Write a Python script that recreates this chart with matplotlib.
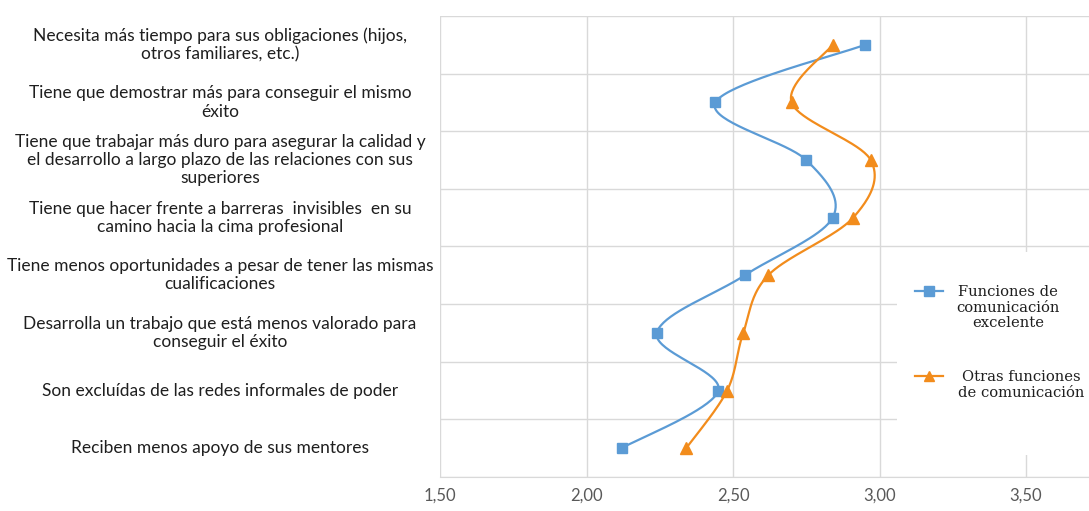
import matplotlib.pyplot as plt
import matplotlib.transforms as mtransforms
import numpy as np
from matplotlib.lines import Line2D
from matplotlib.patches import Rectangle

statements = [
    'Necesita más tiempo para sus obligaciones (hijos,\notros familiares, etc.)',
    'Tiene que demostrar más para conseguir el mismo\néxito',
    'Tiene que trabajar más duro para asegurar la calidad y\nel desarrollo a largo plazo de las relaciones con sus\nsuperiores',
    'Tiene que hacer frente a barreras  invisibles  en su\ncamino hacia la cima profesional',
    'Tiene menos oportunidades a pesar de tener las mismas\ncualificaciones',
    'Desarrolla un trabajo que está menos valorado para\nconseguir el éxito',
    'Son excluídas de las redes informales de poder',
    'Reciben menos apoyo de sus mentores',
]
excelente = [2.95, 2.44, 2.75, 2.84, 2.54, 2.24, 2.45, 2.12]
otras = [2.84, 2.70, 2.97, 2.91, 2.62, 2.535, 2.48, 2.34]
x_ticks = [1.5, 2.0, 2.5, 3.0, 3.5]
x_tick_labels = ['1,50', '2,00', '2,50', '3,00', '3,50']

BLUE = '#5B9BD5'
ORANGE = '#F28C1C'
GRID = '#d9d9d9'


def smooth(xs, ys, steps=40):
    # Catmull-Rom curve through the points, ends repeated
    pts = np.column_stack([xs, ys]).astype(float)
    padded = np.vstack([pts[0], pts, pts[-1]])
    t = np.linspace(0, 1, steps)[:, None]
    parts = []
    for i in range(1, len(padded) - 2):
        p0, p1, p2, p3 = padded[i - 1:i + 3]
        seg = 0.5 * (2 * p1 + (p2 - p0) * t
                     + (2 * p0 - 5 * p1 + 4 * p2 - p3) * t ** 2
                     + (-p0 + 3 * p1 - 3 * p2 + p3) * t ** 3)
        parts.append(seg if i == 1 else seg[1:])
    curve = np.vstack(parts)
    return curve[:, 0], curve[:, 1]


fig = plt.figure(figsize=(10.89, 5.11), dpi=100)
ax = fig.add_axes([440 / 1089, 1 - 477 / 511, 1 - 440 / 1089, (477 - 16) / 511])

pos = np.arange(len(statements))

for vals, color, marker, ms in [(excelente, BLUE, 's', 7.5), (otras, ORANGE, '^', 8)]:
    sx, sy = smooth(vals, pos)
    ax.plot(sx, sy, color=color, lw=1.6, zorder=3)
    ax.plot(vals, pos, linestyle='none', marker=marker, ms=ms, color=color, zorder=4)

ax.set_xlim(1.5, 1.5 + (1089 - 440) / 293)
ax.set_ylim(len(statements) - 0.5, -0.5)
ax.set_xticks(x_ticks)
ax.set_xticklabels(x_tick_labels, fontfamily='Lato', fontsize=12, color='#595959')
ax.set_yticks(np.arange(-0.5, len(statements), 1))
ax.set_yticklabels([])
ax.tick_params(length=0)
ax.tick_params(axis='x', pad=8)
ax.grid(True, color=GRID, lw=1)
ax.set_axisbelow(True)
for side in ['top', 'right', 'left']:
    ax.spines[side].set_visible(False)
ax.spines['bottom'].set_color(GRID)

# category labels, centred in the left margin
trans = mtransforms.blended_transform_factory(fig.transFigure, ax.transData)
for p, s in zip(pos, statements):
    ax.text(220 / 1089, p, s, transform=trans, ha='center', va='center',
            multialignment='center', fontfamily='Lato', fontsize=12.5,
            color='#1f1f1f', linespacing=1.18, clip_on=False)

# legend block on the right
fig.add_artist(Rectangle((897 / 1089, 1 - 455 / 511), (1089 - 897) / 1089, (455 - 252) / 511,
                         transform=fig.transFigure, facecolor='white', edgecolor='none', zorder=2))
legend_items = [
    (BLUE, 's', 7, 'Funciones de\ncomunicación\nexcelente', 291, 1008),
    (ORANGE, '^', 7.5, 'Otras funciones\nde comunicación', 376, 1021),
]
for color, marker, ms, label, ypx, xc in legend_items:
    yy = 1 - ypx / 511
    fig.add_artist(Line2D([915 / 1089, 929 / 1089, 943 / 1089], [yy] * 3, color=color, lw=1.6,
                          marker=marker, ms=ms, markevery=[1], zorder=3))
    fig.text(xc / 1089, yy + 6 / 511, label, ha='center', va='top', multialignment='center',
             fontfamily='DejaVu Serif', fontsize=10.6, color='#1f1f1f', linespacing=1.15, zorder=3)

fig.savefig('out.png', dpi=100)
